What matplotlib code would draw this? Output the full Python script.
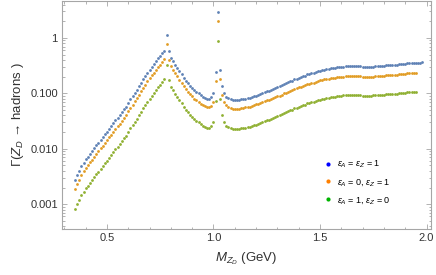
import matplotlib
import matplotlib.pyplot as plt
import numpy as np
from matplotlib.lines import Line2D
from matplotlib.ticker import FixedLocator, FixedFormatter, LogLocator, MultipleLocator, NullFormatter

matplotlib.use('Agg')

plt.rcParams['font.family'] = ['Liberation Sans', 'DejaVu Sans']
plt.rcParams['mathtext.fontset'] = 'custom'
plt.rcParams['mathtext.rm'] = 'Liberation Sans'
plt.rcParams['mathtext.it'] = 'Liberation Sans:italic'

# Z_D mass grid (GeV), 0.35 ... 1.98 in 0.01 steps
mass = np.arange(35, 199) / 100

# eps_A = eps_Z = 1
gamma_blue = [
    0.00269, 0.00331, 0.00398, 0.00479, 0.00562, 0.00646, 0.00724, 0.00813, 0.00912, 0.0102,
    0.0115, 0.0129, 0.0145, 0.0162, 0.0182, 0.0204, 0.0229, 0.0257, 0.0288, 0.0324,
    0.0363, 0.0407, 0.0457, 0.0513, 0.0575, 0.0676, 0.0776, 0.0891, 0.102, 0.117,
    0.135, 0.155, 0.178, 0.204, 0.234, 0.269, 0.302, 0.339, 0.380, 0.427,
    0.468, 0.525, 0.589, 1.12, 0.575, 0.437, 0.380, 0.331, 0.288, 0.251,
    0.219, 0.191, 0.170, 0.151, 0.138, 0.126, 0.115, 0.107, 0.100, 0.0933,
    0.0871, 0.0832, 0.0794, 0.0794, 0.0851, 0.100, 0.240, 2.88, 0.263, 0.135,
    0.100, 0.0871, 0.0813, 0.0776, 0.0759, 0.0759, 0.0759, 0.0759, 0.0776, 0.0776,
    0.0794, 0.0813, 0.0832, 0.0851, 0.0891, 0.0912, 0.0933, 0.0977, 0.100, 0.105,
    0.110, 0.112, 0.117, 0.120, 0.126, 0.132, 0.135, 0.141, 0.148, 0.151,
    0.158, 0.166, 0.170, 0.178, 0.182, 0.191, 0.195, 0.204, 0.209, 0.219,
    0.224, 0.229, 0.234, 0.245, 0.251, 0.257, 0.263, 0.269, 0.272, 0.279,
    0.282, 0.288, 0.292, 0.295, 0.299, 0.302, 0.305, 0.309, 0.309, 0.313,
    0.313, 0.316, 0.316, 0.313, 0.309, 0.302, 0.299, 0.299, 0.302, 0.302,
    0.305, 0.309, 0.309, 0.313, 0.316, 0.316, 0.320, 0.324, 0.324, 0.327,
    0.331, 0.331, 0.335, 0.339, 0.339, 0.343, 0.347, 0.347, 0.351, 0.351,
    0.355, 0.355, 0.359, 0.363,
]

# eps_A = 0, eps_Z = 1
gamma_orange = [
    0.00188, 0.00232, 0.00279, 0.00335, 0.00393, 0.00452, 0.00507, 0.00569, 0.00638, 0.00714,
    0.00805, 0.00903, 0.0102, 0.0113, 0.0127, 0.0143, 0.0160, 0.0180, 0.0202, 0.0227,
    0.0254, 0.0285, 0.0320, 0.0359, 0.0403, 0.0473, 0.0543, 0.0624, 0.0714, 0.0819,
    0.0945, 0.109, 0.125, 0.143, 0.164, 0.188, 0.211, 0.237, 0.266, 0.299,
    0.328, 0.368, 0.412, 0.770, 0.403, 0.306, 0.266, 0.232, 0.202, 0.176,
    0.153, 0.134, 0.119, 0.106, 0.0966, 0.0882, 0.0805, 0.0749, 0.0700, 0.0653,
    0.0610, 0.0582, 0.0556, 0.0556, 0.0596, 0.0700, 0.168, 2.02, 0.184, 0.0945,
    0.0700, 0.0610, 0.0569, 0.0543, 0.0531, 0.0531, 0.0531, 0.0531, 0.0543, 0.0543,
    0.0556, 0.0565, 0.0578, 0.0591, 0.0619, 0.0634, 0.0639, 0.0669, 0.0685, 0.0719,
    0.0754, 0.0767, 0.0801, 0.0822, 0.0863, 0.0904, 0.0911, 0.0952, 0.0999, 0.102,
    0.107, 0.112, 0.115, 0.120, 0.123, 0.129, 0.130, 0.136, 0.139, 0.146,
    0.149, 0.152, 0.156, 0.163, 0.167, 0.171, 0.174, 0.178, 0.180, 0.184,
    0.186, 0.190, 0.193, 0.195, 0.197, 0.199, 0.201, 0.204, 0.204, 0.207,
    0.207, 0.209, 0.209, 0.207, 0.204, 0.199, 0.197, 0.197, 0.199, 0.199,
    0.201, 0.204, 0.204, 0.207, 0.209, 0.209, 0.211, 0.214, 0.214, 0.216,
    0.218, 0.218, 0.221, 0.224, 0.224, 0.226, 0.229, 0.229, 0.232, 0.232,
    0.234,
]

# eps_A = 1, eps_Z = 0
gamma_green = [
    0.00081, 0.00099, 0.00119, 0.00144, 0.00169, 0.00194, 0.00217, 0.00244, 0.00274, 0.00306,
    0.00345, 0.00387, 0.00435, 0.00486, 0.00546, 0.00612, 0.00687, 0.00771, 0.00864, 0.00972,
    0.0109, 0.0122, 0.0137, 0.0154, 0.0173, 0.0203, 0.0233, 0.0267, 0.0306, 0.0351,
    0.0405, 0.0465, 0.0534, 0.0612, 0.0702, 0.0807, 0.0906, 0.102, 0.114, 0.128,
    0.140, 0.158, 0.185, 0.331, 0.173, 0.131, 0.114, 0.0993, 0.0864, 0.0753,
    0.0657, 0.0573, 0.0510, 0.0453, 0.0414, 0.0378, 0.0345, 0.0321, 0.0300, 0.0280,
    0.0261, 0.0250, 0.0238, 0.0238, 0.0255, 0.0300, 0.0720, 0.864, 0.0789, 0.0405,
    0.0300, 0.0261, 0.0244, 0.0233, 0.0228, 0.0228, 0.0228, 0.0228, 0.0233, 0.0233,
    0.0238, 0.0244, 0.0250, 0.0255, 0.0267, 0.0274, 0.0280, 0.0293, 0.0300, 0.0315,
    0.0330, 0.0336, 0.0351, 0.0360, 0.0378, 0.0396, 0.0405, 0.0423, 0.0444, 0.0453,
    0.0474, 0.0498, 0.0510, 0.0534, 0.0546, 0.0573, 0.0585, 0.0612, 0.0627, 0.0657,
    0.0672, 0.0687, 0.0702, 0.0735, 0.0753, 0.0771, 0.0789, 0.0807, 0.0816, 0.0837,
    0.0846, 0.0864, 0.0876, 0.0885, 0.0897, 0.0906, 0.0915, 0.0927, 0.0927, 0.0939,
    0.0939, 0.0948, 0.0948, 0.0939, 0.0927, 0.0906, 0.0897, 0.0897, 0.0906, 0.0906,
    0.0915, 0.0927, 0.0927, 0.0939, 0.0948, 0.0948, 0.0960, 0.0972, 0.0972, 0.0981,
    0.0993, 0.0993, 0.101, 0.102, 0.102, 0.103, 0.104, 0.104, 0.105, 0.105,
    0.107,
]

labels = [r'$\epsilon_A$ = $\epsilon_Z$ = 1', r'$\epsilon_A$ = 0, $\epsilon_Z$ = 1', r'$\epsilon_A$ = 1, $\epsilon_Z$ = 0']
y_ticks = [0.001, 0.01, 0.1, 1]
y_tick_labels = ['0.001', '0.010', '0.100', '1']

point_colors = ['#5E81B5', '#E19C24', '#8FB032']
legend_colors = ['#0000FF', '#FF8000', '#00B400']
frame_color = '#A6A6A6'

fig = plt.figure(figsize=(4.36, 2.75), dpi=100)
ax = fig.add_axes([0.1422, 0.1673, 0.8463, 0.8300])

for series, color in zip([gamma_blue, gamma_orange, gamma_green], point_colors):
    ax.plot(mass[:len(series)], series, linestyle='none', marker='o', markersize=2.0,
            markeredgewidth=0, color=color)

ax.set_yscale('log')
ax.set_xlim(0.289, 2.021)
ax.set_ylim(3.57e-4, 4.69)

ax.xaxis.set_major_locator(FixedLocator([0.5, 1.0, 1.5, 2.0]))
ax.xaxis.set_minor_locator(MultipleLocator(0.1))
ax.set_xticklabels(['0.5', '1.0', '1.5', '2.0'])
ax.yaxis.set_major_locator(FixedLocator(y_ticks))
ax.yaxis.set_major_formatter(FixedFormatter(y_tick_labels))
ax.yaxis.set_minor_locator(LogLocator(base=10, subs=np.arange(2, 10)))
ax.yaxis.set_minor_formatter(NullFormatter())

ax.tick_params(which='both', direction='in', top=True, right=True, color=frame_color,
               labelcolor='#333333', labelsize=8, width=0.6)
ax.tick_params(which='major', length=3.3, pad=3)
ax.tick_params(which='minor', length=1.8)
for spine in ax.spines.values():
    spine.set_color(frame_color)
    spine.set_linewidth(0.8)

ax.set_xlabel(r'$M_{Z_D}$ (GeV)', fontsize=9.5, color='#333333', labelpad=5)
ax.set_ylabel(r'$\Gamma$($Z_D$ → hadrons )', fontsize=9.5, color='#333333', labelpad=3)

handles = [Line2D([], [], linestyle='none', marker='o', markersize=3, markeredgewidth=0, color=c)
           for c in legend_colors]
ax.legend(handles, labels, loc='center left', bbox_to_anchor=(0.711, 0.205), frameon=False,
          fontsize=6.5, handlelength=0.8, handletextpad=0.6, labelspacing=0.75,
          borderpad=0, borderaxespad=0)

fig.savefig('out.png', dpi=100)
